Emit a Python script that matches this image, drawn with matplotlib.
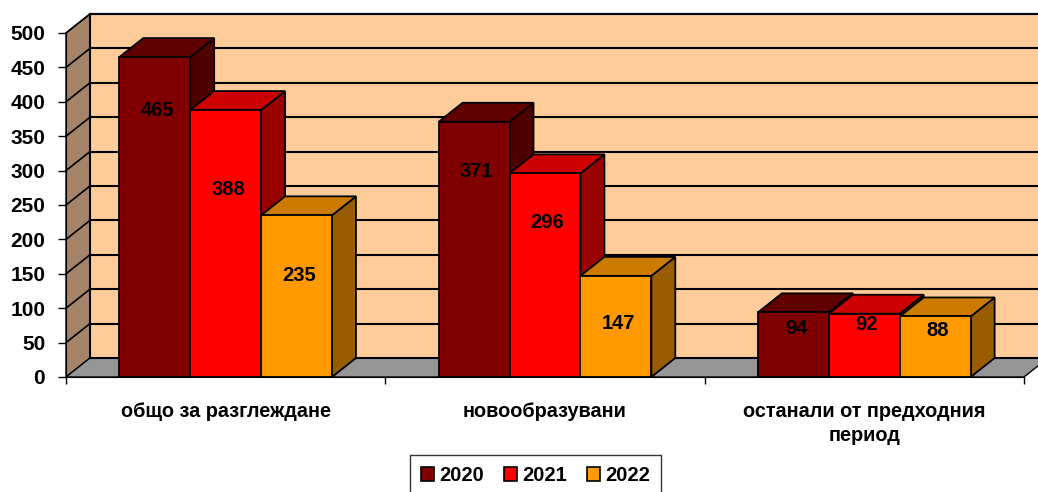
import matplotlib.pyplot as plt
from matplotlib.patches import Polygon, Patch

# data
categories = ["общо за разглеждане", "новообразувани", "останали от предходния\nпериод"]
years = ["2020", "2021", "2022"]
values = {
    "2020": [465, 371, 94],
    "2021": [388, 296, 92],
    "2022": [235, 147, 88],
}
# where Excel put the value labels (in value units)
label_y = {
    "2020": [388, 298, 70],
    "2021": [272, 225, 77],
    "2022": [148, 78, 68],
}

front_col = {"2020": "#800000", "2021": "#FF0000", "2022": "#FF9900"}
top_col = {"2020": "#600000", "2021": "#CC0000", "2022": "#CC7A00"}
side_col = {"2020": "#4D0000", "2021": "#990000", "2022": "#995C00"}

plt.rcParams['font.family'] = ['Liberation Sans', 'DejaVu Sans']
plt.rcParams['font.weight'] = 'bold'

fig = plt.figure(figsize=(10.38, 4.92), dpi=100)
ax = fig.add_axes([66 / 1038, 115 / 492, 958 / 1038, 344 / 492])
ax.set_xlim(0, 3)
ax.set_ylim(0, 500)

dx = 0.075   # depth offset in category units
dy = 27.6    # depth offset in value units
ymax = 500

# walls and floor
ax.add_patch(Polygon([(0, 0), (dx, dy), (dx, ymax + dy), (0, ymax)],
                     closed=True, fc="#A6846A", ec="black", lw=1, clip_on=False, zorder=1))
ax.add_patch(Polygon([(0, 0), (3, 0), (3 + dx, dy), (dx, dy)],
                     closed=True, fc="#969696", ec="black", lw=1, clip_on=False, zorder=1))
ax.add_patch(Polygon([(dx, dy), (3 + dx, dy), (3 + dx, ymax + dy), (dx, ymax + dy)],
                     closed=True, fc="#FFCC99", ec="black", lw=1.5, clip_on=False, zorder=1))

for g in range(50, ymax + 1, 50):
    ax.plot([dx, 3 + dx], [g + dy, g + dy], color="black", lw=1.5, clip_on=False, zorder=2)
    ax.plot([0, dx], [g, g + dy], color="black", lw=1.2, clip_on=False, zorder=2)

# bars
bw = 0.222
for i in range(len(categories)):
    start = i + 0.5 - 1.5 * bw
    for j, yr in enumerate(years):
        x0 = start + j * bw
        x1 = x0 + bw
        v = values[yr][i]
        kw = dict(closed=True, ec="black", lw=1.3, clip_on=False, zorder=3)
        ax.add_patch(Polygon([(x1, 0), (x1 + dx, dy), (x1 + dx, v + dy), (x1, v)],
                             fc=side_col[yr], **kw))
        ax.add_patch(Polygon([(x0, v), (x1, v), (x1 + dx, v + dy), (x0 + dx, v + dy)],
                             fc=top_col[yr], **kw))
        ax.add_patch(Polygon([(x0, 0), (x1, 0), (x1, v), (x0, v)],
                             fc=front_col[yr], **kw))
        ax.text(x0 + bw / 2 + 0.008, label_y[yr][i], str(v), ha="center", va="center",
                fontsize=14.5, fontweight="bold", color="black", zorder=4)

# axes
for s in ["top", "right"]:
    ax.spines[s].set_visible(False)
ax.spines["left"].set_zorder(5)
ax.spines["bottom"].set_zorder(5)
ax.set_yticks(range(0, 501, 50))
ax.tick_params(axis="y", length=6, width=1, labelsize=15, pad=9)
ax.set_xticks([0.5, 1.5, 2.5])
ax.set_xticklabels(categories, fontsize=14.3, fontweight="bold", linespacing=1.35)
ax.set_xticks([0, 1, 2, 3], minor=True)
ax.tick_params(axis="x", which="major", length=0, pad=18)
ax.tick_params(axis="x", which="minor", length=5, width=1)
for lab in ax.get_yticklabels():
    lab.set_fontweight("bold")

# legend
handles = [Patch(fc=front_col[y], ec="black", lw=1.2, label=y) for y in years]
leg = fig.legend(handles=handles, loc="upper left", bbox_to_anchor=(410 / 1038, 1 - 455 / 492),
                 ncol=3, frameon=True, fancybox=False, fontsize=14.5,
                 handlelength=0.65, handleheight=0.65, handletextpad=0.25,
                 columnspacing=1.0, borderpad=0.55, borderaxespad=0)
leg.get_frame().set_edgecolor("black")
leg.get_frame().set_linewidth(1)
for t in leg.get_texts():
    t.set_fontweight("bold")

fig.savefig("out.png", dpi=100)
